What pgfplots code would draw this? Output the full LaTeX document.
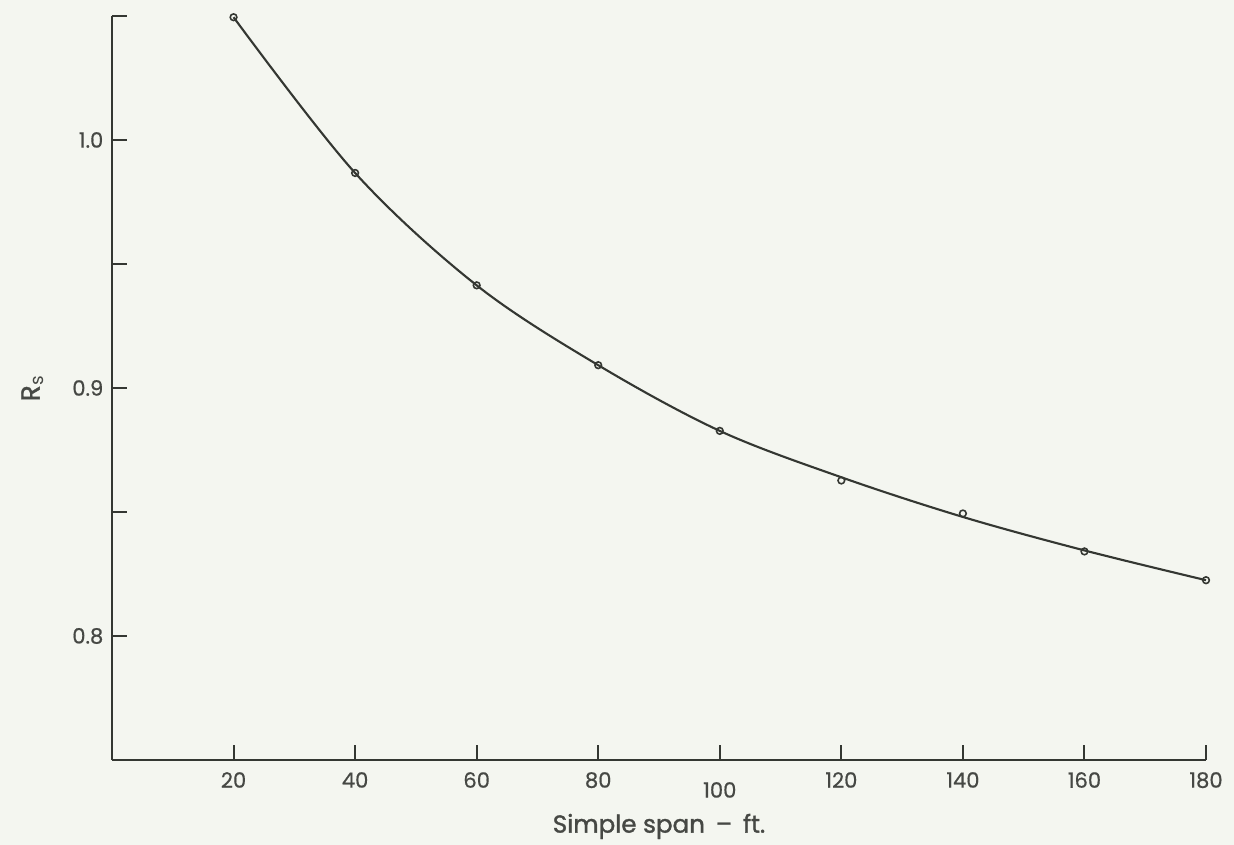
\documentclass[border=0pt]{standalone}
\usepackage{pgfplots}
\pgfplotsset{compat=1.18}
\usepackage{fontspec}
\setmainfont{Poppins}
\newfontfamily\tickfont{Poppins}[FakeBold=0.6]
\newfontfamily\labelfont{Poppins}[FakeBold=1.4]
\definecolor{paper}{RGB}{244,246,240}
\definecolor{ink}{RGB}{52,55,50}
\definecolor{lbl}{RGB}{70,72,68}
\pagecolor{paper}

\begin{document}
\begin{tikzpicture}
\begin{axis}[
  at={(0,0)}, anchor=south west,
  scale only axis,
  width=21.88cm, height=14.88cm,
  xmin=0, xmax=180, ymin=0.75, ymax=1.05,
  axis lines=left, axis line style={-, ink, line width=1.1pt},
  tick align=inside, major tick length=0.3cm, minor tick length=0.3cm,
  tick style={ink, line width=1.1pt},
  xtick={20,40,...,180},
  xticklabels={20,40,60,80,\raisebox{-0.2cm}[\height][\depth]{100},120,140,160,180},
  ytick={0.8,0.9,1.0},
  minor ytick={0.85,0.95,1.05},
  yticklabels={0.8,0.9,1.0},
  ticklabel style={font=\tickfont\fontsize{12}{14}\selectfont, text=lbl},
  xticklabel style={yshift=-0.12cm},
  yticklabel style={xshift=-0.05cm},
  xlabel={Simple span \,–\, ft.},
  ylabel={R$_{\mathrm{s}}$},
  xlabel style={font=\labelfont\fontsize{14}{16}\selectfont, text=lbl,
    inner sep=0pt, at={(axis description cs:0.5,0)}, anchor=north, yshift=-1.07cm},
  ylabel style={font=\labelfont\fontsize{15}{17}\selectfont, text=lbl,
    inner sep=0pt, at={(axis description cs:0,0.5)}, anchor=south, yshift=1.36cm},
  clip=false,
]
% hand-drawn curve, read along the line itself
\addplot[ink, line width=1.2pt, smooth, tension=0.55]
  coordinates {
  (20,1.0495) (40,0.9867) (60,0.9414) (80,0.9092) (100,0.8827)
  (120,0.8640) (140,0.8480) (160,0.8345) (180,0.8225)
  };
% plotted points
\addplot[only marks, mark=o, mark size=1.9pt, ink, mark options={line width=0.9pt}]
  coordinates {
  (20,1.0495) (40,0.9867) (60,0.9414) (80,0.9092) (100,0.8827)
  (120,0.8627) (140,0.8494) (160,0.8341) (180,0.8225)
  };
\end{axis}
\pgfresetboundingbox
\path[use as bounding box] (-2.24,-1.70) rectangle (22.44,15.20);
\end{tikzpicture}
\end{document}
